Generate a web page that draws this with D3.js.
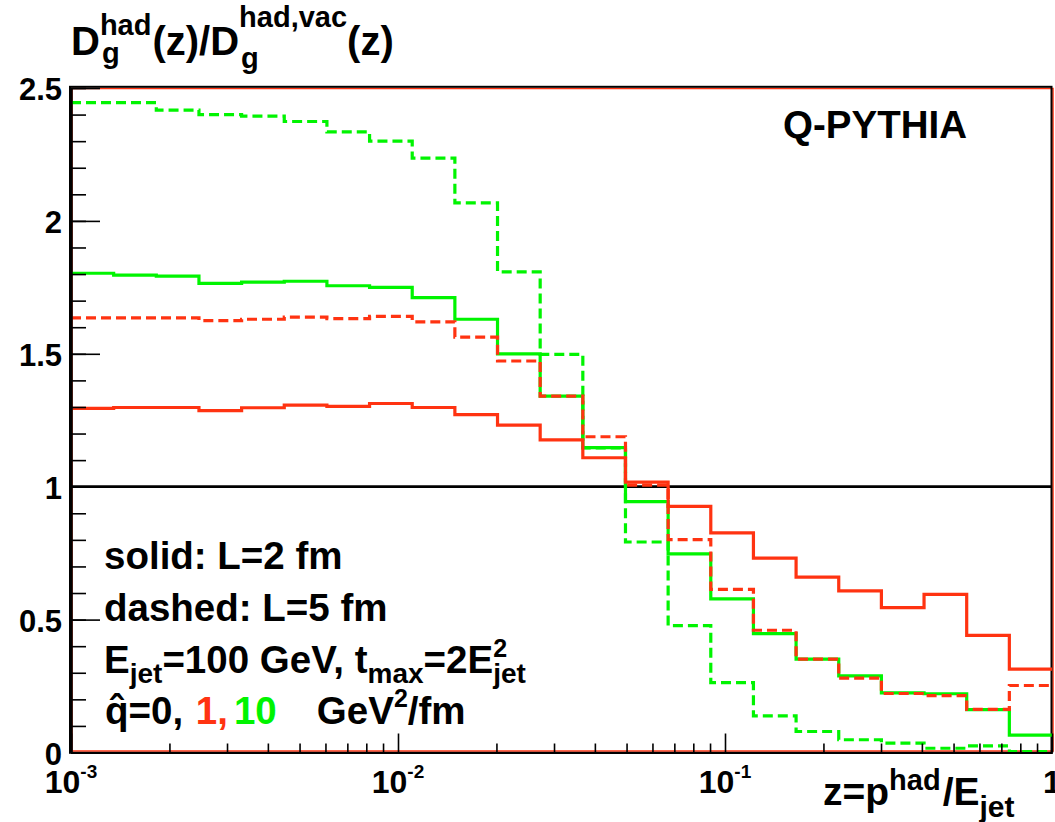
<!DOCTYPE html>
<html>
<head>
<meta charset="utf-8">
<script src="https://cdn.jsdelivr.net/npm/d3@7"></script>
<style>
  html, body { margin: 0; padding: 0; background: #fff; }
  svg { display: block; }
  text { font-family: "Liberation Sans", Arial, Helvetica, sans-serif; font-weight: bold; white-space: pre; }
</style>
</head>
<body>
<svg id="chart" width="1055" height="822"></svg>
<script>
// Q-PYTHIA gluon fragmentation: medium / vacuum ratio vs z (log-uniform bins)
const zMin = 1e-3, zMax = 1, nBins = 23;
const binEdges = d3.range(nBins + 1).map(k => Math.pow(10, Math.log10(zMin) + (Math.log10(zMax) - Math.log10(zMin)) * k / nBins));

// L = 2 fm, qhat = 1 GeV^2/fm
const redSolid = [1.295, 1.298, 1.298, 1.286, 1.297, 1.307, 1.302, 1.313, 1.298, 1.271, 1.232, 1.176,
                  1.109, 1.017, 0.926, 0.826, 0.731, 0.660, 0.608, 0.545, 0.595, 0.441, 0.314];
// L = 5 fm, qhat = 1 GeV^2/fm
const redDashed = [1.635, 1.635, 1.635, 1.625, 1.630, 1.638, 1.632, 1.641, 1.620, 1.563, 1.473, 1.341,
                   1.188, 1.006, 0.801, 0.614, 0.460, 0.351, 0.280, 0.222, 0.214, 0.162, 0.252];
// L = 2 fm, qhat = 10 GeV^2/fm
const greenSolid = [1.803, 1.796, 1.792, 1.765, 1.770, 1.773, 1.756, 1.750, 1.711, 1.630, 1.500, 1.341,
                    1.147, 0.944, 0.747, 0.578, 0.447, 0.351, 0.288, 0.224, 0.221, 0.161, 0.065];
// L = 5 fm, qhat = 10 GeV^2/fm
const greenDashed = [2.445, 2.445, 2.417, 2.400, 2.394, 2.374, 2.335, 2.300, 2.236, 2.068, 1.808, 1.498,
                     1.146, 0.792, 0.477, 0.263, 0.138, 0.079, 0.048, 0.035, 0.016, 0.025, 0.003];

const xMajorTicks = [1e-3, 1e-2, 1e-1, 1];
const xTickExponents = ["-3", "-2", "-1", null];
const yMajorTicks = [0, 0.5, 1, 1.5, 2, 2.5];
const yTickLabels = ["0", "0.5", "1", "1.5", "2", "2.5"];

const RED = "#ff3311", GREEN = "#00f400";

const svg = d3.select("#chart");
const x = d3.scaleLog().domain([zMin, zMax]).range([71, 1052]);
const y = d3.scaleLinear().domain([0, 2.5]).range([752.5, 88]);

// Rich text: sequence of runs, stacked sub/superscripts share one x position
function richText(parent, x0, y0, parts, anchor) {
  const g = parent.append("g");
  let cx = 0;
  parts.forEach(p => {
    const pieces = p.stack ? p.stack : [p];
    let w = 0;
    pieces.forEach(q => {
      const t = g.append("text")
        .attr("x", cx + (q.dx || 0))
        .attr("y", q.dy || 0)
        .style("font-size", q.size + "px")
        .attr("fill", q.color || "#000")
        .text(q.t);
      w = Math.max(w, t.node().getComputedTextLength() + (q.dx || 0));
    });
    cx += w;
  });
  const shift = anchor === "middle" ? -cx / 2 : anchor === "end" ? -cx : 0;
  g.attr("transform", `translate(${x0 + shift},${y0})`);
  return g;
}

// Frame
svg.append("rect").attr("x", 72).attr("y", 88.5).attr("width", 981).attr("height", 662.5)
  .attr("fill", "none").attr("stroke", RED).attr("stroke-width", 1.5);
svg.append("rect").attr("x", 70).attr("y", 86.8).attr("width", 981.5).attr("height", 666)
  .attr("fill", "none").attr("stroke", "#000").attr("stroke-width", 2);

// Reference line at ratio 1
svg.append("line").attr("x1", x(zMin)).attr("x2", x(zMax)).attr("y1", y(1)).attr("y2", y(1))
  .attr("stroke", "#000").attr("stroke-width", 2.8);

// Histograms drawn as step outlines
const stepLine = d3.line().x(d => x(d[0])).y(d => y(d[1]));
function steps(vals) {
  const pts = [];
  vals.forEach((v, i) => { pts.push([binEdges[i], v], [binEdges[i + 1], v]); });
  return pts;
}
const series = [
  { vals: greenSolid, color: GREEN, dash: null },
  { vals: greenDashed, color: GREEN, dash: "10,5" },
  { vals: redSolid, color: RED, dash: null },
  { vals: redDashed, color: RED, dash: "10,5" }
];
svg.append("g").selectAll("path").data(series).join("path")
  .attr("d", s => stepLine(steps(s.vals)))
  .attr("fill", "none")
  .attr("stroke", s => s.color)
  .attr("stroke-width", 3.2)
  .attr("stroke-dasharray", s => s.dash);

// X axis: inward ticks, log minors
const xMinor = [];
for (let d = -3; d < 0; d++) for (let m = 2; m <= 9; m++) xMinor.push(m * Math.pow(10, d));
const xAxisMinor = d3.axisBottom(x).tickValues(xMinor).tickSize(-9).tickFormat("").tickSizeOuter(0);
const xAxisMajor = d3.axisBottom(x).tickValues(xMajorTicks).tickSize(-19).tickFormat("").tickSizeOuter(0);
[xAxisMinor, xAxisMajor].forEach(ax => {
  const g = svg.append("g").attr("transform", `translate(0,${752.5})`).call(ax);
  g.selectAll("line").attr("stroke", "#000").attr("stroke-width", 1.6);
  g.select(".domain").attr("stroke", "#000").attr("stroke-width", 2.2);
});
xMajorTicks.forEach((t, i) => {
  const parts = [{ t: "10", size: 32 }];
  if (xTickExponents[i]) parts.push({ t: xTickExponents[i], size: 19, dy: -15 });
  else parts[0] = { t: "1", size: 32 };
  richText(svg, x(t), 793, parts, "middle");
});

// Y axis: inward ticks
const yMinor = d3.range(0, 26).map(i => i / 10);
const yAxisMinor = d3.axisLeft(y).tickValues(yMinor).tickSize(-15).tickFormat("").tickSizeOuter(0);
const yAxisMajor = d3.axisLeft(y).tickValues(yMajorTicks).tickSize(-29).tickPadding(9)
  .tickFormat((d, i) => yTickLabels[i]).tickSizeOuter(0);
[yAxisMinor, yAxisMajor].forEach(ax => {
  const g = svg.append("g").attr("transform", `translate(${71},0)`).call(ax);
  g.selectAll("line").attr("stroke", "#000").attr("stroke-width", 1.6);
  g.select(".domain").attr("stroke", "#000").attr("stroke-width", 2);
  g.selectAll("text").style("font-size", "31px").attr("fill", "#000")
    .attr("font-family", null).attr("font-size", null).attr("dy", "0.38em");
});

// Y title
richText(svg, 71, 55, [
  { t: "D", size: 40 },
  { stack: [{ t: "g", size: 29, dy: 8, dx: 2 }, { t: "had", size: 29, dy: -20 }] },
  { t: "(z)/D", size: 40, dx: 1 },
  { stack: [{ t: "g", size: 29, dy: 13, dx: 2 }, { t: "had,vac", size: 29, dy: -28 }] },
  { t: "(z)", size: 40 }
]);

// X title
richText(svg, 823, 805, [
  { t: "z=p", size: 39 },
  { t: "had", size: 29, dy: -15 },
  { t: "/E", size: 39, dx: 2 },
  { t: "jet", size: 30, dy: 12 }
]);

// Generator label
richText(svg, 783, 138, [{ t: "Q-PYTHIA", size: 38.5 }]);

// Annotations
richText(svg, 104, 569, [{ t: "solid: L=2 fm", size: 38.5 }]);
richText(svg, 104, 621, [{ t: "dashed: L=5 fm", size: 38.5 }]);
richText(svg, 104, 673, [
  { t: "E", size: 38.5 },
  { t: "jet", size: 28, dy: 10 },
  { t: "=100 GeV, t", size: 38.5 },
  { t: "max", size: 28, dy: 10 },
  { t: "=2E", size: 38.5 },
  { stack: [{ t: "jet", size: 28, dy: 10 }, { t: "2", size: 25, dy: -16 }] }
]);
const qLine = richText(svg, 105, 724, [
  { t: "q", size: 38.5 },
  { t: "=0, ", size: 38.5 },
  { t: "1,", size: 38.5, color: RED, dx: 2 },
  { t: "10", size: 38.5, color: GREEN, dx: 6 },
  { t: "   GeV", size: 38.5, dx: 8 },
  { t: "2", size: 25, dy: -17 },
  { t: "/fm", size: 38.5 }
]);
// circumflex over the q
qLine.append("text").attr("x", 11.5).attr("y", 0).attr("text-anchor", "middle")
  .style("font-size", "40px").attr("fill", "#000").text("ˆ");
</script>
</body>
</html>
